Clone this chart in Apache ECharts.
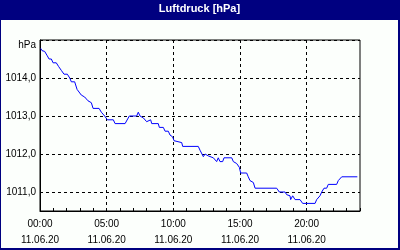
<!DOCTYPE html>
<html><head><meta charset="utf-8">
<script src="https://cdn.jsdelivr.net/npm/echarts@6/dist/echarts.min.js"></script>
<style>
html,body{margin:0;padding:0;background:#000080;width:400px;height:250px;overflow:hidden}
#c{position:absolute;left:1px;top:0;width:397px;height:248px;}
</style>
</head><body><div id="c"></div>
<script>
const chartTitle = 'Luftdruck [hPa]';
const unitLabel = 'hPa';
const dateLabel = '11.06.20';
const xTickHours = [0, 5, 10, 15, 20];
const xTickLabels = ['00:00', '05:00', '10:00', '15:00', '20:00'];
const yTickValues = [1011, 1012, 1013, 1014];
const yTickLabels = ['1011,0', '1012,0', '1013,0', '1014,0'];

const hours = [0.05,0.15,0.35,0.52,0.68,0.85,0.98,1.22,1.4,1.6,1.8,2.05,2.23,2.35,2.6,2.78,2.93,3.1,3.35,3.6,3.85,3.98,4.43,4.6,4.85,4.97,5.05,5.5,5.63,6.38,6.45,6.7,7.25,7.37,7.5,7.63,7.75,8.0,8.08,8.3,8.38,8.87,8.95,9.25,9.38,9.62,9.75,9.95,10.05,10.2,10.63,10.7,11.87,12.0,12.13,12.25,12.38,12.52,12.62,13.0,13.13,13.25,13.37,13.5,13.7,13.8,14.38,14.5,14.75,14.95,15.05,15.5,15.62,15.75,15.88,16.0,16.13,17.75,17.8,17.87,17.95,18.38,18.5,18.75,18.8,18.95,19.13,19.5,19.63,19.7,20.63,20.75,20.87,21.0,21.13,21.25,21.3,21.5,21.62,22.25,22.37,22.5,22.63,23.8];
const pressure = [1014.78,1014.72,1014.7,1014.6,1014.5,1014.5,1014.4,1014.4,1014.3,1014.2,1014.1,1014.1,1014.0,1013.9,1013.9,1013.7,1013.7,1013.55,1013.5,1013.4,1013.35,1013.2,1013.2,1013.1,1013.0,1012.95,1012.9,1012.9,1012.8,1012.8,1012.85,1013.0,1013.0,1013.1,1013.0,1013.0,1012.95,1012.85,1012.8,1012.9,1012.8,1012.8,1012.7,1012.7,1012.6,1012.6,1012.5,1012.45,1012.35,1012.3,1012.3,1012.2,1012.2,1012.1,1012.05,1011.93,1012.0,1012.0,1011.95,1011.9,1011.85,1011.8,1011.9,1011.8,1011.8,1011.9,1011.9,1011.8,1011.75,1011.65,1011.5,1011.5,1011.4,1011.3,1011.25,1011.25,1011.1,1011.1,1011.05,1011.1,1011.0,1011.0,1010.93,1010.9,1010.8,1010.9,1010.8,1010.8,1010.75,1010.7,1010.7,1010.8,1010.8,1010.9,1011.0,1011.05,1011.1,1011.1,1011.2,1011.2,1011.3,1011.3,1011.4,1011.4];

const TR = 'rgba(0,0,0,0)';
const chart = echarts.init(document.getElementById('c'), null, {renderer: 'canvas'});
chart.setOption({
  animation: false,
  backgroundColor: '#fcfffc',
  graphic: [{
    type: 'rect', left: 0, top: 0, z: -1,
    shape: {width: 397, height: 20},
    style: {fill: '#000080'}
  }],
  title: {
    text: chartTitle, left: 'center', top: 3, padding: 0,
    textStyle: {color: '#fff', fontSize: 11, fontWeight: 'bold', fontFamily: 'Liberation Sans'}
  },
  grid: {left: 39, right: 38, top: 40, bottom: 37, show: true, borderColor: '#000', borderWidth: 1, backgroundColor: 'transparent'},
  xAxis: {
    type: 'value', min: 0, max: 24, interval: 1,
    axisLine: {lineStyle: {color: '#000', width: 1}},
    axisTick: {show: true, inside: true, length: 3, lineStyle: {color: '#000'}},
    axisLabel: {
      color: '#000', fontSize: 10, fontFamily: 'Liberation Sans', lineHeight: 16, margin: 5,
      formatter: v => { const i = xTickHours.indexOf(v); return i >= 0 ? xTickLabels[i] + '\n' + dateLabel : ''; }
    },
    splitLine: {show: true, lineStyle: {color: ['#000', TR, TR, TR, TR], type: [3, 3], width: 1}}
  },
  yAxis: {
    type: 'value', min: 1010.5, max: 1015, interval: 0.5,
    axisLine: {show: true, lineStyle: {color: '#000', width: 1}},
    axisTick: {show: false},
    axisLabel: {
      color: '#000', fontSize: 10, fontFamily: 'Liberation Sans', margin: 4,
      formatter: v => {
        if (Math.abs(v - 1015) < 1e-6) return '{u|' + unitLabel + '}';
        const i = yTickValues.indexOf(v); return i >= 0 ? yTickLabels[i] : '';
      },
      rich: {u: {fontSize: 10, fontFamily: 'Liberation Sans', color: '#000', padding: [10, 0, 0, 0]}}
    },
    splitLine: {show: true, lineStyle: {color: [TR, '#000'], type: [3, 3], width: 1}}
  },
  series: [{
    type: 'line', showSymbol: false, symbol: 'none',
    data: hours.map((h, i) => [h, pressure[i]]),
    lineStyle: {color: '#0000ff', width: 1}
  }]
});
</script>
</body></html>
